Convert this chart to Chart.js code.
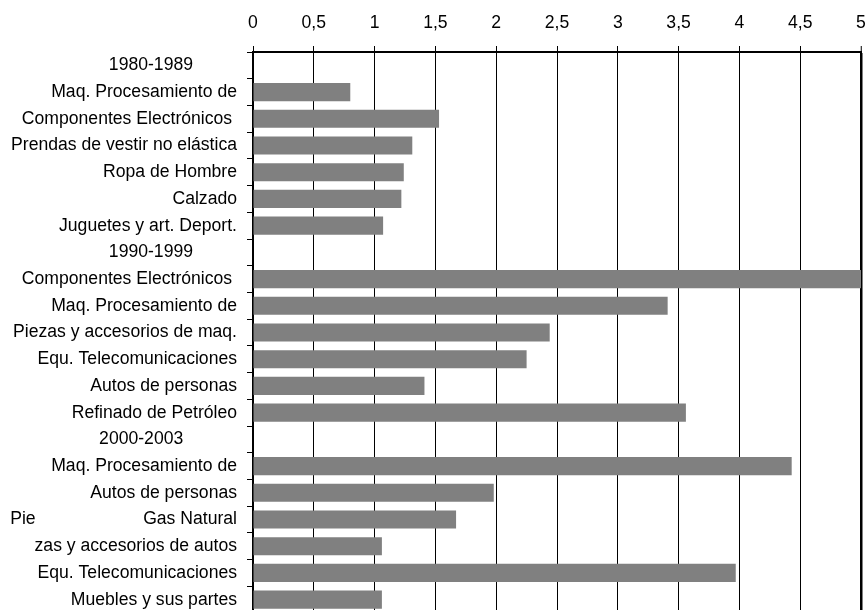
<!DOCTYPE html>
<html>
<head>
<meta charset="utf-8">
<script src="https://cdn.jsdelivr.net/npm/chart.js@4"></script>
<style>
  html, body { margin: 0; padding: 0; background: #fff; overflow: hidden; }
  #chart { display: block; }
</style>
</head>
<body>
<canvas id="chart" width="868" height="614"></canvas>
<script>
// categorias (los encabezados de periodo no tienen barra)
var categories = [
    "1980-1989         ",
    "Maq. Procesamiento de",
    "Componentes Electrónicos ",
    "Prendas de vestir no elástica",
    "Ropa de Hombre",
    "Calzado",
    "Juguetes y art. Deport.",
    "1990-1999         ",
    "Componentes Electrónicos ",
    "Maq. Procesamiento de",
    "Piezas y accesorios de maq.",
    "Equ. Telecomunicaciones",
    "Autos de personas",
    "Refinado de Petróleo",
    "2000-2003           ",
    "Maq. Procesamiento de",
    "Autos de personas",
    "Pie                      Gas Natural",
    "zas y accesorios de autos",
    "Equ. Telecomunicaciones",
    "Muebles y sus partes"
];

var values = [
    null, 0.80, 1.53, 1.31, 1.24, 1.22, 1.07,
    null, 5.00, 3.41, 2.44, 2.25, 1.41, 3.56,
    null, 4.43, 1.98, 1.67, 1.06, 3.97, 1.06
];

var tickLabels = ["0", "0,5", "1", "1,5", "2", "2,5", "3", "3,5", "4", "4,5", "5"];

var FONT = { family: "'Liberation Sans', Arial, Helvetica, sans-serif", size: 17.6 };

function noPadding(scale) {
    scale.paddingLeft = 0;
    scale.paddingRight = 0;
    scale.paddingTop = 0;
    scale.paddingBottom = 0;
}

var ctx = document.getElementById("chart").getContext("2d");

new Chart(ctx, {
    type: "bar",
    data: {
        labels: categories,
        datasets: [{
            data: values,
            backgroundColor: "#808080",
            borderWidth: 0,
            barPercentage: 0.68,
            categoryPercentage: 1.0
        }]
    },
    options: {
        indexAxis: "y",
        responsive: false,
        animation: false,
        layout: { padding: { left: 0, right: 7, top: 0, bottom: 1 } },
        plugins: {
            legend: { display: false },
            tooltip: { enabled: false }
        },
        scales: {
            x: {
                position: "top",
                min: 0,
                max: 5,
                afterFit: function (scale) { scale.height = 52; noPadding(scale); },
                ticks: {
                    stepSize: 0.5,
                    color: "#000",
                    font: FONT,
                    padding: 12,
                    maxRotation: 0,
                    callback: function (value, index) { return tickLabels[index]; }
                },
                grid: {
                    color: "#000",
                    lineWidth: function (c) { return c.tick && c.tick.value === 5 ? 2.5 : 1; },
                    tickLength: 6,
                    tickColor: "#000",
                    tickWidth: 1
                },
                border: { display: true, color: "#000", width: 2 }
            },
            y: {
                afterFit: function (scale) { scale.width = 253; noPadding(scale); },
                ticks: {
                    color: "#000",
                    font: FONT,
                    padding: 10,
                    autoSkip: false
                },
                grid: {
                    drawOnChartArea: false,
                    offset: true,
                    tickLength: 6,
                    tickColor: "#000",
                    tickWidth: 1
                },
                border: { display: true, color: "#000", width: 2 }
            }
        }
    }
});
</script>
</body>
</html>
